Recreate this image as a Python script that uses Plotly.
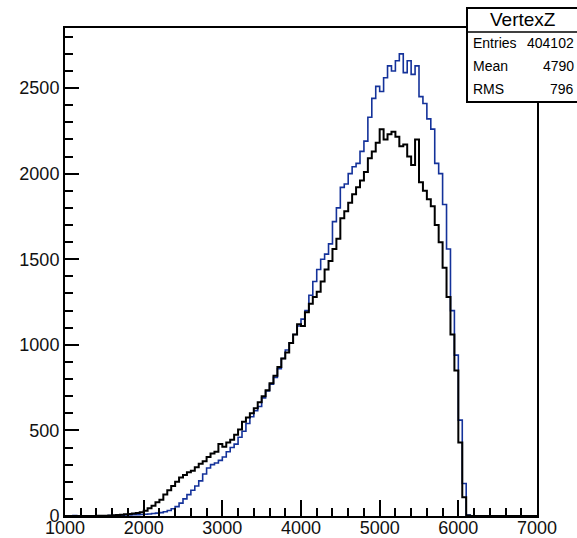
import numpy as np
import plotly.graph_objects as go

# Histogram binning (VertexZ), 50-unit bins from 1000 to 7000
BIN_START = 1000
BIN_WIDTH = 50

black_counts = [
    0, 0, 0, 0, 0, 0, 0, 0, 1, 1,                                   # 1000-1450
    2, 3, 4, 6, 8, 10, 12, 15, 18, 22,                              # 1500-1950
    30, 45, 60, 80, 95, 125, 150, 175, 200, 225,                    # 2000-2450
    240, 255, 265, 285, 305, 320, 345, 365, 375, 420,               # 2500-2950
    405, 430, 445, 475, 505, 550, 575, 600, 630, 665,               # 3000-3450
    700, 735, 775, 820, 870, 920, 955, 1010, 1060, 1120,            # 3500-3950
    1110, 1190, 1240, 1280, 1310, 1370, 1440, 1490, 1560, 1620,     # 4000-4450
    1740, 1780, 1830, 1880, 1920, 1960, 2010, 2090, 2130, 2180,     # 4500-4950
    2260, 2200, 2230, 2245, 2215, 2160, 2170, 2100, 2050, 2200,     # 5000-5450
    1950, 1900, 1850, 1810, 1700, 1600, 1450, 1280, 1060, 850,      # 5500-5950
    430, 110, 3, 0, 0, 0, 0, 0, 0, 0,                               # 6000-6450
    0, 0, 0, 0, 0, 0, 0, 0, 0, 0,                                   # 6500-6950
]

blue_counts = [
    0, 0, 3, 0, 0, 0, 0, 0, 0, 0,                                   # 1000-1450
    0, 2, 3, 4, 5, 6, 6, 8, 8, 9,                                   # 1500-1950
    10, 12, 15, 17, 20, 25, 32, 42, 55, 75,                         # 2000-2450
    100, 125, 150, 175, 205, 245, 280, 300, 310, 325,               # 2500-2950
    345, 375, 400, 420, 460, 495, 540, 580, 615, 640,               # 3000-3450
    690, 730, 770, 810, 860, 920, 970, 1010, 1060, 1110,            # 3500-3950
    1150, 1200, 1290, 1370, 1440, 1500, 1530, 1590, 1720, 1800,     # 4000-4450
    1920, 1940, 2000, 2040, 2060, 2130, 2190, 2330, 2440, 2510,     # 4500-4950
    2480, 2560, 2630, 2600, 2660, 2700, 2590, 2660, 2580, 2630,     # 5000-5450
    2450, 2410, 2320, 2260, 2060, 2000, 1820, 1560, 1200, 940,      # 5500-5950
    560, 190, 5, 0, 0, 0, 0, 0, 0, 0,                               # 6000-6450
    0, 0, 0, 0, 0, 0, 0, 0, 0, 0,                                   # 6500-6950
]

stats_title = "VertexZ"
stats_labels = ["Entries", "Mean", "RMS"]
stats_values = ["404102", "4790", "796"]

x_range = [1000, 7000]
y_range = [0, 2851]

edges = BIN_START + BIN_WIDTH * np.arange(len(black_counts) + 1)


def step_y(vals):
    return list(vals) + [vals[-1]]


FONT = "Liberation Sans, Arial, Helvetica, sans-serif"

fig = go.Figure()
fig.add_trace(go.Scatter(
    x=edges, y=step_y(blue_counts), mode="lines", line_shape="hv",
    line=dict(color="#14329a", width=1.6), showlegend=False, hoverinfo="skip"))
fig.add_trace(go.Scatter(
    x=edges, y=step_y(black_counts), mode="lines", line_shape="hv",
    line=dict(color="black", width=2), showlegend=False, hoverinfo="skip"))

axis_common = dict(
    showgrid=False, zeroline=False, showline=True, linecolor="black", linewidth=2,
    mirror=True, ticks="inside", tickcolor="black", tickwidth=1.5, automargin=False,
    tickfont=dict(family=FONT, size=18, color="#111"),
)
fig.update_xaxes(range=x_range, tickmode="linear", tick0=1000, dtick=1000, ticklen=16,
                 ticklabelstandoff=-6,
                 minor=dict(ticks="inside", dtick=200, ticklen=8, tickcolor="black", tickwidth=1.5),
                 **axis_common)
fig.update_yaxes(range=y_range, tickmode="linear", tick0=0, dtick=500, ticklen=14,
                 minor=dict(ticks="inside", dtick=100, ticklen=8, tickcolor="black", tickwidth=1.5),
                 **axis_common)

# Stats box (paper coordinates relative to plot area: x 65..537 px, y 28..516 px)
def px_x(p):
    return (p - 65) / 472.0


def px_y(p):
    return (516 - p) / 488.0


box_l, box_r, box_t, box_b, box_sep = px_x(467), px_x(585), px_y(8), px_y(102), px_y(32)
fig.add_shape(type="rect", xref="paper", yref="paper", x0=box_l, x1=box_r, y0=box_b, y1=box_t,
              line=dict(color="black", width=2), fillcolor="white", layer="above")
fig.add_shape(type="line", xref="paper", yref="paper", x0=box_l, x1=box_r, y0=box_sep, y1=box_sep,
              line=dict(color="black", width=1.5), layer="above")
fig.add_annotation(xref="paper", yref="paper", x=px_x(523), y=px_y(20), text=stats_title,
                   showarrow=False, xanchor="center", yanchor="middle",
                   font=dict(family=FONT, size=19, color="black"))
row_y = [43, 66, 89]
for lab, val, ry in zip(stats_labels, stats_values, row_y):
    fig.add_annotation(xref="paper", yref="paper", x=px_x(471), y=px_y(ry), text=lab,
                       showarrow=False, xanchor="left", yanchor="middle",
                       font=dict(family=FONT, size=14, color="black"))
    fig.add_annotation(xref="paper", yref="paper", x=px_x(576), y=px_y(ry), text=val,
                       showarrow=False, xanchor="right", yanchor="middle",
                       font=dict(family=FONT, size=14, color="black"))

# Histogram title, mostly above the visible window
fig.add_annotation(xref="paper", yref="paper", x=px_x(290), y=px_y(2), text=stats_title,
                   showarrow=False, xanchor="center", yanchor="bottom",
                   font=dict(family=FONT, size=20, color="#777"))

fig.update_layout(
    width=577, height=538,
    margin=dict(l=65, r=40, t=28, b=22, pad=0),
    paper_bgcolor="white", plot_bgcolor="white",
)

fig.write_html("out.html")
